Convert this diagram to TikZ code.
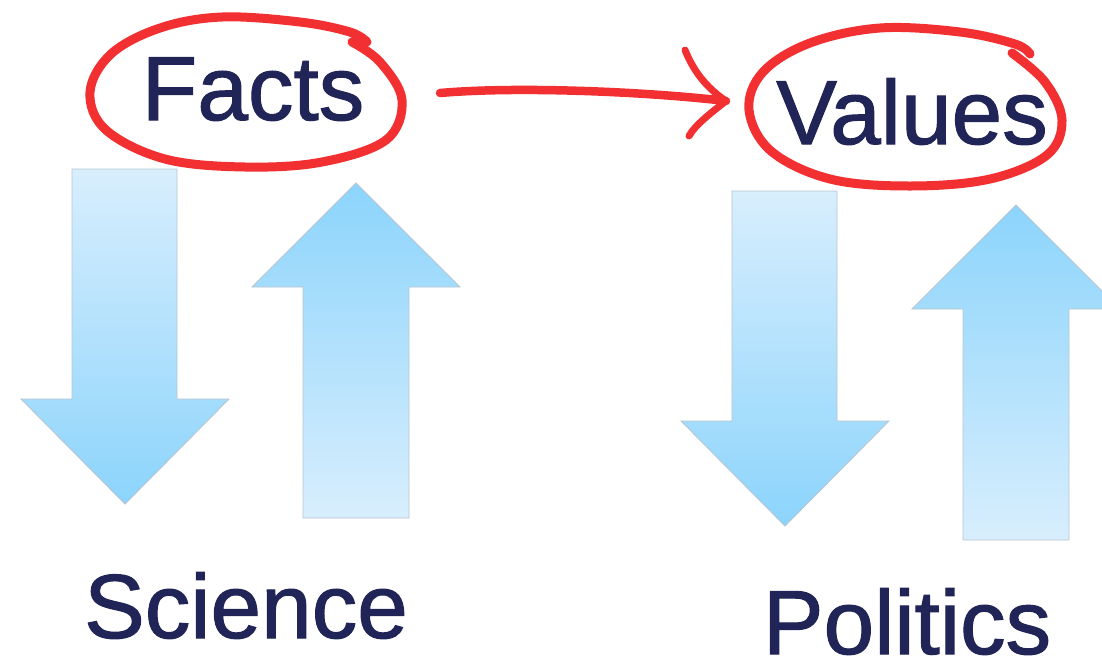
\documentclass[tikz,border=0pt]{standalone}
\usepackage{fontspec}
\setmainfont[FakeBold=1.2]{Liberation Sans}
\definecolor{navy}{RGB}{32,36,86}
\definecolor{pen}{RGB}{242,48,50}
\definecolor{lightb}{RGB}{216,238,253}
\definecolor{darkb}{RGB}{140,212,252}
\definecolor{rim}{RGB}{184,198,210}
\begin{document}
\begin{tikzpicture}[x=1pt,y=-1pt,
  word/.style={font=\fontsize{91}{91}\selectfont, text=navy, inner sep=0pt, anchor=base},
  ring/.style={draw=pen, line width=9pt, line cap=round, line join=round},
  downarrow/.style={draw=rim, line width=0.9pt, top color=lightb, bottom color=darkb},
  uparrow/.style={draw=rim, line width=0.9pt, top color=darkb, bottom color=lightb}]
\useasboundingbox[fill=white] (0,0) rectangle (1102,662);

% block arrows, left pair
\path[downarrow] (72,169) -- (177,169) -- (177,399) -- (229,399) -- (125,504) -- (21,399) -- (72,399) -- cycle;
\path[uparrow] (303,518) -- (409,518) -- (409,287) -- (460,287) -- (356,183) -- (252,287) -- (303,287) -- cycle;
% block arrows, right pair
\begin{scope}[shift={(660,22)}]
\path[downarrow] (72,169) -- (177,169) -- (177,399) -- (229,399) -- (125,504) -- (21,399) -- (72,399) -- cycle;
\path[uparrow] (303,518) -- (409,518) -- (409,287) -- (460,287) -- (356,183) -- (252,287) -- (303,287) -- cycle;
\end{scope}

% words
\node[word] (facts) at (253,120) {Facts};
\node[word] (values) at (912,144) {Values};
\node[word] (science) at (246,638) {Science};
\node[word] (politics) at (907,654) {Politics};

% hand-drawn rings
\draw[ring] plot[smooth, tension=0.6] coordinates {(352,42) (380,62) (402,100) (386,140) (322,162) (245,167) (165,159) (106,130) (90,92) (111,54) (160,28) (222,17) (300,22) (350,32) (367,42)};
\draw[ring] plot[smooth, tension=0.6] coordinates {(1012,53) (1045,82) (1062,120) (1047,155) (990,179) (910,186) (830,179) (771,151) (749,110) (763,72) (810,43) (880,28) (960,32) (1015,44) (1030,54)};

% red connector
\coordinate (a0) at (440,93);
\coordinate (a1) at (726,101);
\coordinate (h1) at (685,50);
\coordinate (h2) at (689,136);
\draw[pen, line width=8.5pt, line cap=round] (a0) .. controls (520,86) and (650,92) .. (a1);
\draw[pen, line width=7pt, line cap=round, line join=round] (h1) .. controls (695,75) and (710,90) .. (a1) .. controls (712,112) and (695,125) .. (h2);
\end{tikzpicture}
\end{document}
